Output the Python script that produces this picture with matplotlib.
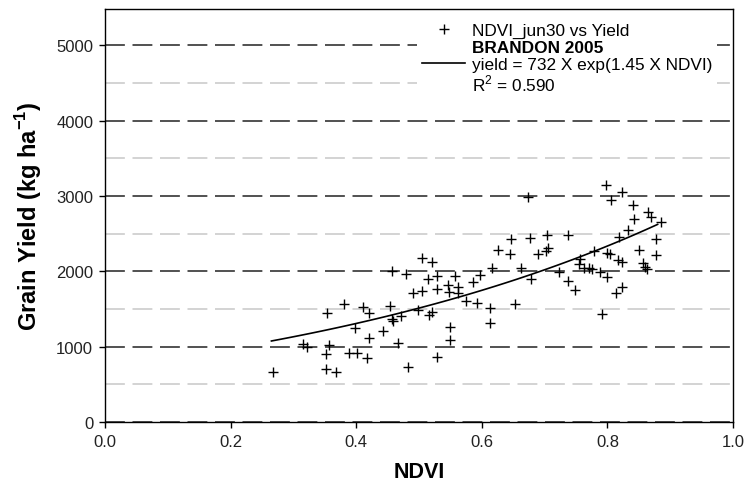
import numpy as np
import matplotlib
matplotlib.use("Agg")
import matplotlib.pyplot as plt
from matplotlib.lines import Line2D
from matplotlib.ticker import MultipleLocator

plt.rcParams['font.family'] = ['Liberation Sans', 'DejaVu Sans']
plt.rcParams['mathtext.fontset'] = 'custom'
plt.rcParams['mathtext.rm'] = 'Liberation Sans'
plt.rcParams['mathtext.bf'] = 'Liberation Sans:bold'

# NDVI (jun30) vs grain yield, Brandon 2005
ndvi = [0.267, 0.316, 0.322, 0.353, 0.356, 0.352, 0.352, 0.368, 0.380, 0.389,
        0.401, 0.398, 0.411, 0.417, 0.421, 0.421, 0.442, 0.454, 0.457, 0.459,
        0.472, 0.457, 0.466, 0.483, 0.479, 0.490, 0.504, 0.505, 0.520, 0.515,
        0.498, 0.516, 0.520, 0.528, 0.529, 0.528, 0.549, 0.549, 0.546, 0.548,
        0.557, 0.562, 0.562, 0.575, 0.586, 0.597, 0.593, 0.613, 0.613, 0.617,
        0.625, 0.645, 0.646, 0.653, 0.663, 0.674, 0.676, 0.679, 0.690, 0.702,
        0.706, 0.704, 0.723, 0.738, 0.738, 0.749, 0.756, 0.754, 0.762, 0.770,
        0.775, 0.778, 0.788, 0.792, 0.798, 0.806, 0.799, 0.804, 0.799, 0.814,
        0.824, 0.819, 0.817, 0.824, 0.824, 0.833, 0.840, 0.842, 0.851, 0.856,
        0.860, 0.863, 0.865, 0.869, 0.877, 0.878, 0.885]
grain_yield = [667, 1034, 990, 1445, 1021, 902, 703, 667, 1565, 911,
               915, 1247, 1521, 849, 1445, 1114, 1211, 1534, 1366, 1343,
               1410, 2007, 1044, 725, 1958, 1711, 2171, 1733, 2126, 1896,
               1485, 1423, 1455, 1764, 1932, 866, 1264, 1087, 1821, 1720,
               1936, 1786, 1711, 1600, 1852, 1953, 1574, 1512, 1313, 2042,
               2281, 2224, 2427, 1561, 2038, 2980, 2440, 1896, 2224, 2272,
               2303, 2480, 1985, 2484, 1866, 1746, 2161, 2100, 2045, 2040,
               2030, 2272, 1985, 1432, 3147, 2948, 2237, 2228, 1919, 1711,
               1786, 2461, 2148, 2126, 3046, 2546, 2877, 2692, 2281, 2108,
               2051, 2029, 2789, 2714, 2427, 2214, 2656]

# exponential fit from the legend: yield = a * exp(b * NDVI)
fit_a = 732
fit_b = 1.45
fit_range = (0.265, 0.88)

fig = plt.figure(figsize=(7.47, 4.85), dpi=100)
ax = fig.add_axes([105/747, 1 - 423/485, 628/747, 413/485])

ax.plot(ndvi, grain_yield, ls='none', marker='+', ms=6.5, mew=1.0, color='black', zorder=3)
fx = np.linspace(fit_range[0], fit_range[1], 100)
ax.plot(fx, fit_a * np.exp(fit_b * fx), color='black', lw=1.2, zorder=3)

ax.set_xlim(0, 1.0)
ax.set_ylim(0, 5480)
ax.xaxis.set_major_locator(MultipleLocator(0.2))
ax.xaxis.set_major_formatter(plt.FormatStrFormatter('%.1f'))
ax.yaxis.set_major_locator(MultipleLocator(1000))
ax.yaxis.set_minor_locator(MultipleLocator(500))

ax.grid(axis='y', which='major', color='#222222', ls=(0, (13, 5)), lw=1.1)
ax.grid(axis='y', which='minor', color='#c8c8c8', ls=(0, (13, 5)), lw=1.1)
ax.set_axisbelow(True)

ax.tick_params(axis='both', which='major', direction='out', length=4.5, width=1,
               labelsize=12, labelcolor='#222222', pad=4)
ax.tick_params(axis='y', which='minor', length=0)
for s in ax.spines.values():
    s.set_linewidth(1.0)

ax.set_xlabel('NDVI', fontsize=15.5, fontweight='bold', labelpad=9)
ax.set_ylabel('Grain Yield (kg ha$^{\\mathbf{-1}}$)', fontsize=17, fontweight='bold', labelpad=9)

handles = [Line2D([], [], ls='none', marker='+', ms=6.5, mew=1.0, color='black'),
           Line2D([], [], ls='none'),
           Line2D([], [], color='black', lw=1.2),
           Line2D([], [], ls='none')]
labels = ['NDVI_jun30 vs Yield', 'BRANDON 2005',
          'yield = 732 X exp(1.45 X NDVI)', 'R$^2$ = 0.590']
leg = ax.legend(handles, labels, loc='upper right', bbox_to_anchor=(0.989, 1.0),
                fontsize=12.4, frameon=True, framealpha=1, facecolor='white',
                edgecolor='none', fancybox=False, handlelength=2.5,
                handletextpad=0.4, labelspacing=0.1, borderpad=0.3)
leg.get_texts()[1].set_fontweight('bold')
leg.set_zorder(5)

fig.savefig('out.png', dpi=100)
